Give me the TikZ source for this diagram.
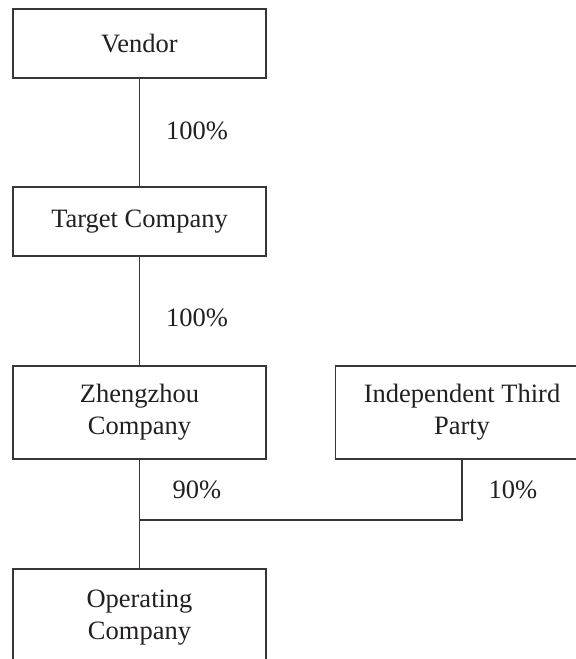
\documentclass[tikz,border=0pt]{standalone}
\usepackage{fontspec}
\setmainfont{Liberation Serif}
\begin{document}
\begin{tikzpicture}[x=0.5pt,y=-0.5pt,
  box/.style={draw=linec, line width=0.75pt, inner sep=0pt, minimum width=126.5pt, align=center,
    text=txtc, font=\fontsize{13.25pt}{16pt}\selectfont},
  conn/.style={draw=linec, line width=0.75pt},
  lbl/.style={text=txtc, font=\fontsize{13.25pt}{16pt}\selectfont, inner sep=0pt}]
\definecolor{linec}{HTML}{3A3634}
\definecolor{txtc}{HTML}{231F20}
\useasboundingbox (0,0) rectangle (576,659);
\clip (0,0) rectangle (576,659);
\node[box, minimum height=34.5pt] (ven) at (139.5,43.5) {Vendor};
\node[box, minimum height=34.5pt] (tgt) at (139.5,221.5) {Target Company};
\node[box, minimum height=46.5pt] (zz) at (139.5,412.5) {Zhengzhou\\Company};
\node[box, minimum height=46.5pt] (itp) at (462,412.5) {Independent Third\\Party};
\node[box, minimum height=48.5pt] (op) at (139.5,617.5) {Operating\\Company};
\coordinate (j) at (139.5,520);
\draw[conn] (ven) -- (tgt);
\draw[conn] (tgt) -- (zz);
\draw[conn] (zz) -- (op);
\draw[conn] (itp.south) |- (j);
\node[lbl] (l1) at (197,131) {100\%};
\node[lbl] (l2) at (197,318) {100\%};
\node[lbl] (l3) at (197,490) {90\%};
\node[lbl] (l4) at (513,490) {10\%};
\end{tikzpicture}
\end{document}
